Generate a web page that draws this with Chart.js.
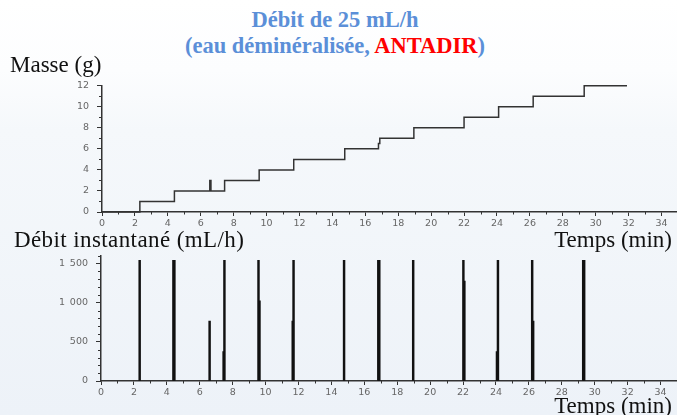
<!DOCTYPE html>
<html lang="fr">
<head>
<meta charset="utf-8">
<title>Débit de 25 mL/h</title>
<script src="https://cdn.jsdelivr.net/npm/chart.js@4.4.1/dist/chart.umd.min.js"></script>
<style>
  html, body { margin: 0; padding: 0; }
  body {
    width: 677px; height: 415px; overflow: hidden; position: relative;
    background: linear-gradient(to bottom, #ffffff 0px, #fcfdfe 70px, #f5f8fb 130px, #edf2f8 415px);
    font-family: 'Liberation Serif', 'Times New Roman', serif;
  }
  .title {
    position: absolute; left: 0; top: 7px; width: 670px;
    text-align: center; font-weight: bold; color: #5b8fd8;
    font-size: 22.5px; line-height: 25.5px;
  }
  .title .red { color: #ff0000; }
  .label { position: absolute; font-size: 23px; line-height: 23px; color: #111; white-space: nowrap; z-index: 2; }
  canvas { position: absolute; }
</style>
</head>
<body>
<div class="title">Débit de 25 mL/h<br>(eau déminéralisée, <span class="red">ANTADIR</span>)</div>
<div class="label" style="left:10px; top:53px;">Masse (g)</div>
<div class="label" style="left:14px; top:228px; letter-spacing:0.4px;">Débit instantané (mL/h)</div>
<div class="label" style="right:5px; top:228px;">Temps (min)</div>
<div class="label" style="right:5px; top:394px;">Temps (min)</div>

<canvas id="masse-chart" width="620" height="158" style="left:60px; top:72px;"></canvas>
<canvas id="debit-chart" width="620" height="157" style="left:59px; top:242px;"></canvas>

<script>
// Masse cumulée (g) : instants des marches (min) et valeur atteinte
const stepTimes = [0, 2.3, 4.4, 6.55, 6.62, 7.45, 9.55, 11.65, 14.75, 16.8, 16.88, 18.95, 22.0, 24.1, 26.2, 29.3, 31.9];
const stepMasses = [0, 1, 2, 3, 2, 3, 4, 5, 6, 6.5, 7, 8, 9, 10, 11, 12, 12];

// Débit instantané (mL/h) : pics principaux
const spikeTimes = [2.35, 4.4, 6.6, 7.5, 9.57, 11.7, 14.77, 16.85, 18.97, 22.02, 24.12, 26.2, 29.3];
const spikeValues = [1540, 1540, 765, 1540, 1540, 1540, 1540, 1540, 1540, 1540, 1540, 1540, 1540];
// pics secondaires (accolés aux principaux)
const spike2Times = [4.46, 7.45, 9.63, 11.65, 16.91, 22.08, 24.06, 26.26, 29.36];
const spike2Values = [1540, 375, 1025, 765, 1540, 1275, 375, 765, 1540];

const xTicksMax = 35;

const axisColor = '#333';
const tickFont = { family: 'DejaVu Sans', size: 9.5 };

// petits traits pour les graduations secondaires
const minorTicks = {
  id: 'minorTicks',
  afterDraw(chart, args, opts) {
    const { ctx } = chart;
    const xs = chart.scales.x, ys = chart.scales.y;
    ctx.save();
    ctx.strokeStyle = axisColor;
    ctx.lineWidth = 1;
    ctx.beginPath();
    xs.ticks.forEach(t => {
      if (t.value % opts.xMajor === 0) return;
      const px = Math.round(xs.getPixelForValue(t.value)) + 0.5;
      ctx.moveTo(px, ys.bottom);
      ctx.lineTo(px, ys.bottom + 2.5);
    });
    ys.ticks.forEach(t => {
      if (t.value % opts.yMajor === 0) return;
      const py = Math.round(ys.getPixelForValue(t.value)) + 0.5;
      ctx.moveTo(xs.left - 3, py);
      ctx.lineTo(xs.left, py);
    });
    ctx.stroke();
    ctx.restore();
  }
};

function xScale() {
  return {
    type: 'linear',
    min: 0,
    max: xTicksMax,
    offset: false,
    afterFit: s => { s.height = 18; },
    border: { color: axisColor, width: 1.5 },
    grid: {
      offset: false,
      drawOnChartArea: false,
      tickLength: 4,
      tickColor: c => (c.tick && c.tick.value % 2 === 0 && c.tick.value < xTicksMax) ? axisColor : 'transparent'
    },
    ticks: {
      stepSize: 1,
      autoSkip: false,
      maxRotation: 0,
      padding: 2,
      color: '#666',
      font: tickFont,
      callback: v => (v % 2 === 0 && v < xTicksMax) ? String(v) : ''
    }
  };
}

new Chart(document.getElementById('masse-chart'), {
  type: 'line',
  data: {
    datasets: [{
      data: stepTimes.map((t, i) => ({ x: t, y: stepMasses[i] })),
      stepped: 'before',
      borderColor: '#333',
      borderWidth: 1.5,
      pointRadius: 0,
      fill: false,
      clip: 4
    }]
  },
  options: {
    responsive: false,
    animation: false,
    layout: { padding: { top: 3, right: 0, left: 0, bottom: 0 } },
    plugins: {
      legend: { display: false },
      tooltip: { enabled: false },
      minorTicks: { xMajor: 2, yMajor: 2 }
    },
    scales: {
      x: xScale(),
      y: {
        min: 0,
        max: 12,
        afterFit: s => { s.width = 42; },
        border: { color: axisColor, width: 1.5 },
        grid: {
          drawOnChartArea: false,
          tickLength: 5,
          tickColor: c => (c.tick && c.tick.value % 2 === 0) ? axisColor : 'transparent'
        },
        ticks: {
          stepSize: 1,
          autoSkip: false,
          padding: 8,
          color: '#666',
          font: tickFont,
          callback: v => v % 2 === 0 ? String(v) : ''
        }
      }
    }
  },
  plugins: [minorTicks]
});

new Chart(document.getElementById('debit-chart'), {
  type: 'bar',
  data: {
    datasets: [{
      data: spikeTimes.map((t, i) => ({ x: t, y: spikeValues[i] })),
      backgroundColor: '#111',
      barThickness: 1.8,
      grouped: false
    }, {
      data: spike2Times.map((t, i) => ({ x: t, y: spike2Values[i] })),
      backgroundColor: '#111',
      barThickness: 1.8,
      grouped: false
    }]
  },
  options: {
    responsive: false,
    animation: false,
    layout: { padding: { top: 9, right: 0, left: 0, bottom: 0 } },
    plugins: {
      legend: { display: false },
      tooltip: { enabled: false },
      minorTicks: { xMajor: 2, yMajor: 500 }
    },
    scales: {
      x: xScale(),
      y: {
        min: 0,
        max: 1600,
        afterFit: s => { s.width = 42; },
        border: { color: axisColor, width: 1.5 },
        grid: {
          drawOnChartArea: false,
          tickLength: 5,
          tickColor: c => (c.tick && c.tick.value % 500 === 0) ? axisColor : 'transparent'
        },
        ticks: {
          stepSize: 100,
          autoSkip: false,
          padding: 8,
          color: '#666',
          font: tickFont,
          callback: v => v % 500 === 0 ? String(v).replace(/\B(?=(\d{3})+$)/g, '\u2002') : ''
        }
      }
    }
  },
  plugins: [minorTicks]
});
</script>
</body>
</html>
